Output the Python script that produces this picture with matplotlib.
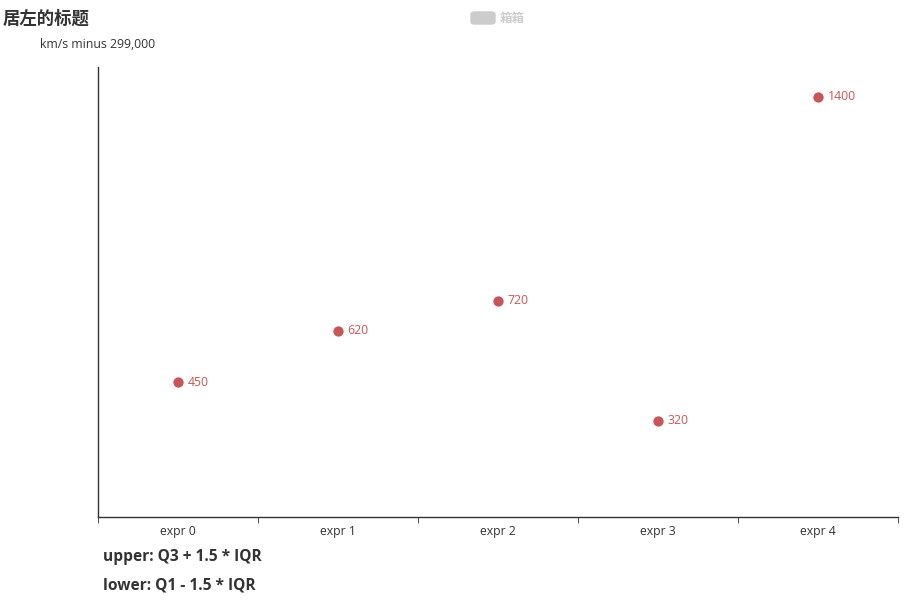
import matplotlib.pyplot as plt
from matplotlib.patches import FancyBboxPatch

plt.rcParams['font.family'] = ['Open Sans', 'Noto Sans CJK SC', 'DejaVu Sans']

categories = ['expr 0', 'expr 1', 'expr 2', 'expr 3', 'expr 4']
outlier_x = [0, 1, 2, 3, 4]
outlier_y = [450, 620, 720, 320, 1400]
title = '居左的标题'
legend_name = '箱箱'
y_name = 'km/s minus 299,000'
notes = ['upper: Q3 + 1.5 * IQR', 'lower: Q1 - 1.5 * IQR']

red = '#c85656'
W, H = 920, 608

fig = plt.figure(figsize=(W / 100, H / 100), dpi=100)
ax = fig.add_axes([98 / W, (H - 517) / H, 800 / W, 450 / H])

ax.scatter(outlier_x, outlier_y, s=55, color=red, zorder=3, linewidths=0)
for x, y in zip(outlier_x, outlier_y):
   ax.annotate(str(y), (x, y), xytext=(7, 0), textcoords='offset points',
               va='center', ha='left', fontsize=8.8, color=red)

ax.set_xlim(-0.5, len(categories) - 0.5)
ax.set_ylim(0, 1500)
ax.set_xticks(range(len(categories)))
ax.set_xticklabels(categories, fontsize=8.8, color='#333333')
ax.tick_params(axis='x', length=0, pad=6)
ax.set_xticks([i - 0.5 for i in range(len(categories) + 1)], minor=True)
ax.tick_params(axis='x', which='minor', length=4, color='#333333')
ax.set_yticks([])
for s in ['top', 'right']:
   ax.spines[s].set_visible(False)
for s in ['left', 'bottom']:
   ax.spines[s].set_color('#333333')
   ax.spines[s].set_linewidth(1)

fig.text(3 / W, 1 - 19 / H, title, fontsize=12.5, fontweight='bold', color='#333333', va='center', ha='left')
fig.text(98 / W, 1 - 44 / H, y_name, fontsize=8.8, color='#333333', va='center', ha='center')

# legend (disabled series)
fig.patches.append(FancyBboxPatch((471 / W, 1 - 24 / H), 24 / W, 12 / H,
                                  boxstyle='round,pad=0,rounding_size=0.004',
                                  transform=fig.transFigure, color='#cccccc'))
fig.text(500 / W, 1 - 18 / H, legend_name, fontsize=9, fontweight='bold', color='#cccccc', va='center', ha='left')

fig.text(103 / W, 1 - 557 / H, notes[0], fontsize=11.2, fontweight='bold', color='#333333', va='center', ha='left')
fig.text(103 / W, 1 - 585 / H, notes[1], fontsize=11.2, fontweight='bold', color='#333333', va='center', ha='left')

fig.savefig('out.png', dpi=100)
